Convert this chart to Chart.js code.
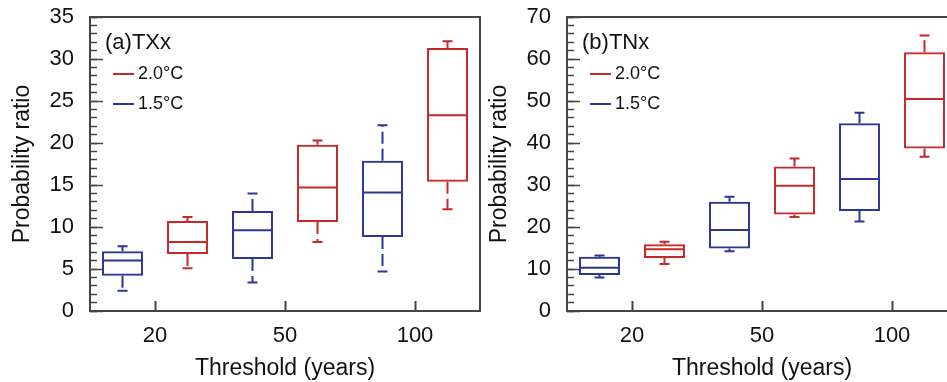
<!DOCTYPE html>
<html>
<head>
<meta charset="utf-8">
<script src="https://cdn.jsdelivr.net/npm/chart.js@4.4.1/dist/chart.umd.min.js"></script>
<style>
  html, body { margin: 0; padding: 0; background: #fff; overflow: hidden; }
  #wrap { position: relative; width: 947px; height: 382px; overflow: hidden; }
  canvas { position: absolute; top: 0; }
</style>
</head>
<body>
<div id="wrap">
  <canvas id="txx" width="482" height="382" style="left:0px"></canvas>
  <canvas id="tnx" width="482" height="382" style="left:477px"></canvas>
</div>
<script>
const thresholds = ['20', '50', '100'];

// one box per threshold: [min, q1, median, q3, max]
const txx15 = [[2.4, 4.2, 6.0, 7.1, 7.7], [3.4, 6.2, 9.6, 11.9, 14.0], [4.7, 8.8, 14.1, 17.9, 22.1]];
const txx20 = [[5.1, 6.8, 8.2, 10.7, 11.2], [8.2, 10.6, 14.7, 19.8, 20.3], [12.1, 15.4, 23.3, 31.3, 32.1]];
const tnx15 = [[8.0, 8.6, 10.3, 12.9, 13.2], [14.2, 14.9, 19.3, 26.0, 27.2], [21.3, 23.8, 31.4, 44.7, 47.2]];
const tnx20 = [[11.2, 12.6, 14.7, 15.9, 16.5], [22.4, 23.0, 29.8, 34.4, 36.3], [36.7, 38.7, 50.5, 61.6, 65.6]];

const RED = 'rgb(200,40,42)';
const BLUE = 'rgb(44,54,150)';
const AXIS = '#444';
const FONT = '"Liberation Sans", Arial, Helvetica, sans-serif';

// medians, whiskers, frame and the in-plot legend
const boxPlugin = {
    id: 'boxExtras',
    afterDatasetsDraw(chart) {
        const ctx = chart.ctx;
        const y = chart.scales.y;
        chart.data.datasets.forEach(function(ds, i) {
            const meta = chart.getDatasetMeta(i);
            meta.data.forEach(function(bar, j) {
                const s = ds.stats[j];
                const x = bar.x;
                const half = bar.width / 2;
                const yMin = y.getPixelForValue(s[0]);
                const yQ1 = y.getPixelForValue(s[1]);
                const yMed = y.getPixelForValue(s[2]);
                const yQ3 = y.getPixelForValue(s[3]);
                const yMax = y.getPixelForValue(s[4]);
                ctx.save();
                ctx.strokeStyle = ds.borderColor;
                ctx.lineWidth = 2;
                // median
                ctx.beginPath();
                ctx.moveTo(x - half + 1, yMed);
                ctx.lineTo(x + half - 1, yMed);
                ctx.stroke();
                // whiskers (dashed, starting at the box)
                ctx.setLineDash([12, 5]);
                ctx.beginPath();
                ctx.moveTo(x, yQ3);
                ctx.lineTo(x, yMax);
                ctx.moveTo(x, yQ1);
                ctx.lineTo(x, yMin);
                ctx.stroke();
                ctx.setLineDash([]);
                // caps
                ctx.beginPath();
                ctx.moveTo(x - 5, yMax);
                ctx.lineTo(x + 5, yMax);
                ctx.moveTo(x - 5, yMin);
                ctx.lineTo(x + 5, yMin);
                ctx.stroke();
                ctx.restore();
            });
        });
    },
    afterDraw(chart, args, opts) {
        const ctx = chart.ctx;
        const a = chart.chartArea;
        ctx.save();
        ctx.strokeStyle = AXIS;
        ctx.lineWidth = 2;
        ctx.strokeRect(a.left, a.top, a.right - a.left, a.bottom - a.top);

        ctx.fillStyle = '#111';
        ctx.textBaseline = 'middle';
        ctx.textAlign = 'left';
        ctx.font = '22px ' + FONT;
        ctx.fillText(opts.title, a.left + 15, a.top + 26);

        ctx.font = '18px ' + FONT;
        const rows = [['2.0°C', RED], ['1.5°C', BLUE]];
        rows.forEach(function(r, k) {
            const ly = a.top + 57 + k * 30;
            ctx.strokeStyle = r[1];
            ctx.lineWidth = 2;
            ctx.beginPath();
            ctx.moveTo(a.left + 23, ly);
            ctx.lineTo(a.left + 44, ly);
            ctx.stroke();
            ctx.fillText(r[0], a.left + 48, ly);
        });
        ctx.restore();
    }
};

function noPad(s) {
    s.paddingTop = 0;
    s.paddingBottom = 0;
    s.paddingLeft = 0;
    s.paddingRight = 0;
}

function makePanel(id, title, s15, s20, yMax, major, minor) {
    const ctx = document.getElementById(id).getContext('2d');
    return new Chart(ctx, {
        type: 'bar',
        data: {
            labels: thresholds,
            datasets: [
                {
                    label: '1.5°C',
                    data: s15.map(function(b) { return [b[1], b[3]]; }),
                    stats: s15,
                    borderColor: BLUE,
                    backgroundColor: 'rgba(0,0,0,0)',
                    borderWidth: 2,
                    borderSkipped: false
                },
                {
                    label: '2.0°C',
                    data: s20.map(function(b) { return [b[1], b[3]]; }),
                    stats: s20,
                    borderColor: RED,
                    backgroundColor: 'rgba(0,0,0,0)',
                    borderWidth: 2,
                    borderSkipped: false
                }
            ]
        },
        options: {
            responsive: false,
            animation: false,
            categoryPercentage: 1.0,
            barPercentage: 0.63,
            layout: { padding: { top: 17, right: 2, bottom: 0, left: 0 } },
            plugins: {
                legend: { display: false },
                tooltip: { enabled: false },
                boxExtras: { title: title }
            },
            scales: {
                x: {
                    type: 'category',
                    offset: true,
                    grid: { offset: false, drawOnChartArea: false, tickLength: -10, tickColor: AXIS, tickWidth: 2 },
                    border: { display: false },
                    ticks: { color: '#111', padding: 22, font: { family: FONT, size: 22 } },
                    title: { display: true, text: 'Threshold (years)', color: '#111', padding: { top: 0, bottom: 0 }, font: { family: FONT, size: 23 } },
                    afterFit: function(s) { s.height = 71; noPad(s); }
                },
                y: {
                    min: 0,
                    max: yMax,
                    weight: 1,
                    grid: { drawOnChartArea: false, tickLength: -13, tickColor: AXIS, tickWidth: 1.5 },
                    border: { display: false },
                    ticks: { stepSize: major, color: '#111', padding: 29, font: { family: FONT, size: 22 } },
                    title: { display: true, text: 'Probability ratio', color: '#111', padding: { top: 9, bottom: 0 }, font: { family: FONT, size: 23 } },
                    afterFit: function(s) { s.width = 90; noPad(s); }
                },
                yMinor: {
                    position: 'left',
                    min: 0,
                    max: yMax,
                    weight: 0,
                    grid: { drawOnChartArea: false, tickLength: -7, tickColor: AXIS, tickWidth: 1.5 },
                    border: { display: false },
                    ticks: { stepSize: minor, display: false },
                    afterFit: function(s) { s.width = 0; noPad(s); }
                }
            }
        },
        plugins: [boxPlugin]
    });
}

makePanel('txx', '(a)TXx', txx15, txx20, 35, 5, 1);
makePanel('tnx', '(b)TNx', tnx15, tnx20, 70, 10, 2);
</script>
</body>
</html>
